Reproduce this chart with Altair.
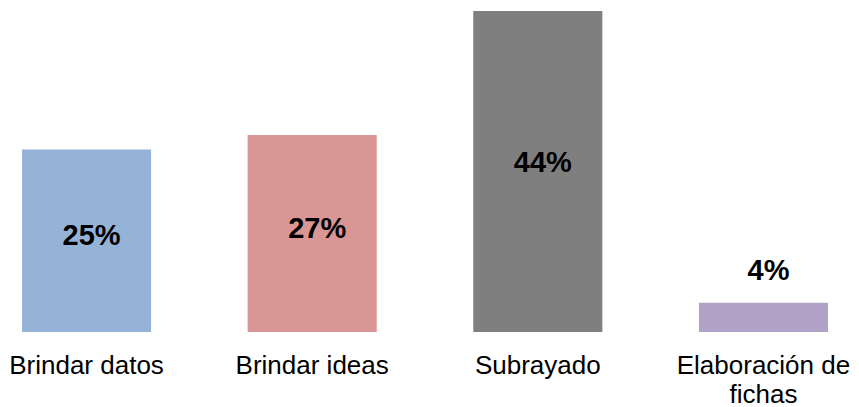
import altair as alt
import pandas as pd

categories = ["Brindar datos", "Brindar ideas", "Subrayado", "Elaboración de\nfichas"]
values = [25, 27, 44, 4]
colors = ["#95B3D7", "#D99694", "#7F7F7F", "#B3A2C7"]
value_labels = ["25%", "27%", "44%", "4%"]

df = pd.DataFrame({"cat": categories, "value": values, "label": value_labels})

FONT = "Liberation Sans"

x = alt.X(
    "cat:N",
    sort=categories,
    scale=alt.Scale(paddingInner=0.428, paddingOuter=0),
    axis=alt.Axis(
        title=None, domain=False, ticks=False, labelAngle=0,
        labelFont=FONT, labelFontSize=26, labelColor="#000000",
        labelPadding=20, labelBaseline="top", labelLineHeight=29,
        labelExpr="split(datum.label, '\\n')", labelLimit=400,
    ),
)

bars = alt.Chart(df).mark_bar().encode(
    x=x,
    y=alt.Y("value:Q", scale=alt.Scale(domain=[0, 44], nice=False), axis=None),
    color=alt.Color("cat:N", scale=alt.Scale(domain=categories, range=colors), legend=None),
)

texts = alt.Chart(df).transform_calculate(
    ypos="datum.value > 10 ? datum.value * 0.525 : datum.value + 4.4"
).mark_text(font=FONT, fontSize=29, fontWeight="bold", color="#000000",
            baseline="middle", dx=5).encode(
    x=alt.X("cat:N", sort=categories),
    y=alt.Y("ypos:Q"),
    text="label:N",
)

chart = alt.layer(bars, texts).properties(
    width=806, height=321,
    autosize=alt.AutoSizeParams(type="none"),
    padding={"left": 14, "top": 3, "right": 23, "bottom": 75},
).configure_view(stroke=None)

chart.save("out.html", embed_options={"renderer": "svg", "actions": False})
